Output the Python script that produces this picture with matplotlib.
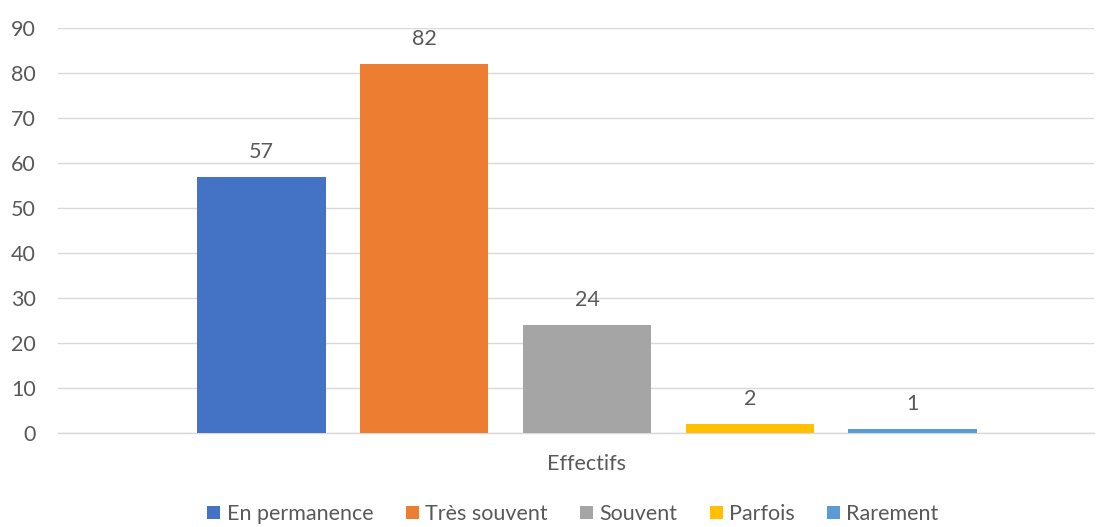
import matplotlib
matplotlib.use("Agg")
import matplotlib.pyplot as plt
from matplotlib.patches import Patch

series = ["En permanence", "Très souvent", "Souvent", "Parfois", "Rarement"]
values = [57, 82, 24, 2, 1]
colors = ["#4472C4", "#ED7D31", "#A5A5A5", "#FFC000", "#5B9BD5"]
category = "Effectifs"
yticks = [0, 10, 20, 30, 40, 50, 60, 70, 80, 90]

plt.rcParams['font.family'] = ['Lato', 'DejaVu Sans']
txt = "#595959"
fs = 15.5

fig = plt.figure(figsize=(11.04, 5.27), dpi=100)
ax = fig.add_axes([58/1104, 1-433/527, (1094-58)/1104, (433-28)/527])

xs = list(range(len(values)))
bars = ax.bar(xs, values, width=0.79, color=colors, zorder=3)
for x, v in zip(xs, values):
    ax.text(x, v + 3.3, str(v), ha="center", va="bottom", fontsize=fs, color=txt)

ax.set_xlim(-1.248, 5.113)
ax.set_ylim(0, 90)
ax.set_yticks(yticks)
ax.set_yticklabels([str(t) for t in yticks], fontsize=fs, color=txt)
ax.tick_params(axis="y", length=0, pad=16)
ax.set_xticks([2])
ax.set_xticklabels([category], fontsize=fs, color=txt)
ax.tick_params(axis="x", length=0, pad=15)
ax.grid(axis="y", color="#D9D9D9", linewidth=1, zorder=0)
for s in ["top", "right", "left"]:
    ax.spines[s].set_visible(False)
ax.spines["bottom"].set_color("#D9D9D9")
ax.spines["bottom"].set_linewidth(1)

handles = [Patch(facecolor=c, edgecolor="none") for c in colors]
leg = fig.legend(handles, series, loc="center", bbox_to_anchor=(573/1104, 1-514/527),
                 ncol=5, frameon=False, fontsize=fs, handlelength=0.6, handleheight=0.6,
                 handletextpad=0.3, columnspacing=1.5)
for t in leg.get_texts():
    t.set_color(txt)

fig.savefig("out.png", dpi=100)
